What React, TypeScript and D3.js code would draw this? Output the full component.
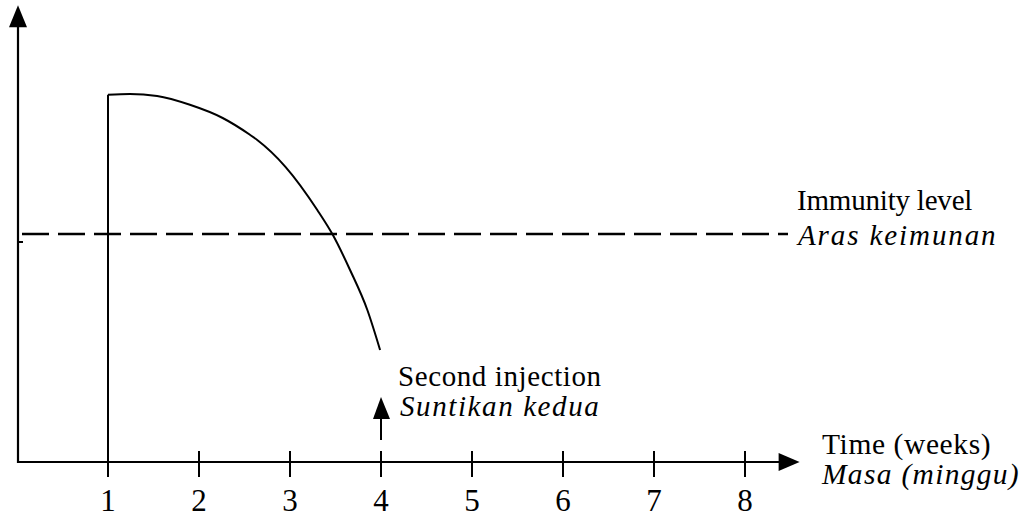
import * as d3 from 'd3';

// week numbers along the time axis
const weekTicks = [1, 2, 3, 4, 5, 6, 7, 8];

// antibody level after the first injection (arbitrary units)
const curveWeeks = [1, 1.24, 1.54, 1.9, 2.26, 2.56, 2.64, 2.95, 3.3, 3.47, 3.66, 3.85, 3.99];
const curveLevels = [9.18, 9.2, 9.15, 8.93, 8.6, 8.18, 8.05, 7.38, 6.3, 5.68, 4.8, 3.8, 2.8];

const immunityLevel = 5.7;
const injectionWeek = 4;

const W = 1024;
const H = 517;
const font = "'Liberation Serif', 'Times New Roman', Times, serif";

export default function App() {
  // scales
  const x = d3.scaleLinear().domain([0, 8]).range([17, 745]);
  const y = d3.scaleLinear().domain([0, 10]).range([462, 62]);

  const x0 = x(0);
  const y0 = y(0);
  const xEnd = x(8.6);
  const yTop = y(11.42);

  const pts: [number, number][] = curveWeeks.map((w, i) => [w, curveLevels[i]]);
  const line = d3
    .line<[number, number]>()
    .x((d) => x(d[0]))
    .y((d) => y(d[1]))
    .curve(d3.curveMonotoneX);

  const arrowX = x(injectionWeek);

  return (
    <svg
      width={W}
      height={H}
      style={{ position: 'absolute', left: 0, top: 0, background: '#fff' }}
    >
      {/* y axis with arrow */}
      <line x1={x0 + 1} x2={x0 + 1} y1={y0 + 1} y2={yTop + 18} stroke="#000" strokeWidth={2.2} />
      <path
        d={`M${x0 + 1},${yTop} L${x0 - 8},${yTop + 22} L${x0 + 10},${yTop + 22} Z`}
        fill="#000"
      />
      <line x1={x0 + 1} x2={x0 + 6} y1={242} y2={242} stroke="#000" strokeWidth={2} />

      {/* x axis with arrow */}
      <line x1={x0} x2={xEnd - 18} y1={y0} y2={y0} stroke="#000" strokeWidth={2.2} />
      <path d={`M${xEnd},${y0} L${xEnd - 21},${y0 - 9} L${xEnd - 21},${y0 + 9} Z`} fill="#000" />

      {weekTicks.map((w) => (
        <g key={w}>
          <line
            x1={x(w)}
            x2={x(w)}
            y1={y0 - 11}
            y2={y0 + 15}
            stroke="#000"
            strokeWidth={2}
          />
          <text
            x={x(w)}
            y={511}
            textAnchor="middle"
            style={{ fontFamily: font, fontSize: 31 }}
          >
            {w}
          </text>
        </g>
      ))}

      {/* immunity level */}
      <line
        x1={x0 + 5}
        x2={788}
        y1={y(immunityLevel)}
        y2={y(immunityLevel)}
        stroke="#000"
        strokeWidth={2.4}
        strokeDasharray="27 9"
      />

      {/* antibody response */}
      <line
        x1={x(curveWeeks[0])}
        x2={x(curveWeeks[0])}
        y1={y0}
        y2={y(curveLevels[0])}
        stroke="#000"
        strokeWidth={2}
      />
      <path d={line(pts) ?? ''} fill="none" stroke="#000" strokeWidth={2} />

      {/* second injection arrow */}
      <line x1={arrowX} x2={arrowX} y1={440} y2={414} stroke="#000" strokeWidth={2} />
      <path
        d={`M${arrowX},397 L${arrowX - 8},419 L${arrowX + 9},419 Z`}
        fill="#000"
      />

      <g style={{ fontFamily: font, fontSize: 29 }} fill="#000">
        <text x={797} y={210} letterSpacing={-0.2}>Immunity level</text>
        <text x={798} y={245} fontStyle="italic" letterSpacing={1.9}>Aras keimunan</text>
        <text x={398} y={386} letterSpacing={0.6}>Second injection</text>
        <text x={400} y={416} fontStyle="italic" letterSpacing={1.6}>Suntikan kedua</text>
        <text x={822} y={454} style={{ fontSize: 29.5 }} letterSpacing={0.6}>Time (weeks)</text>
        <text x={822} y={484} style={{ fontSize: 29.5 }} fontStyle="italic" letterSpacing={1.3}>
          Masa (minggu)
        </text>
      </g>
    </svg>
  );
}
